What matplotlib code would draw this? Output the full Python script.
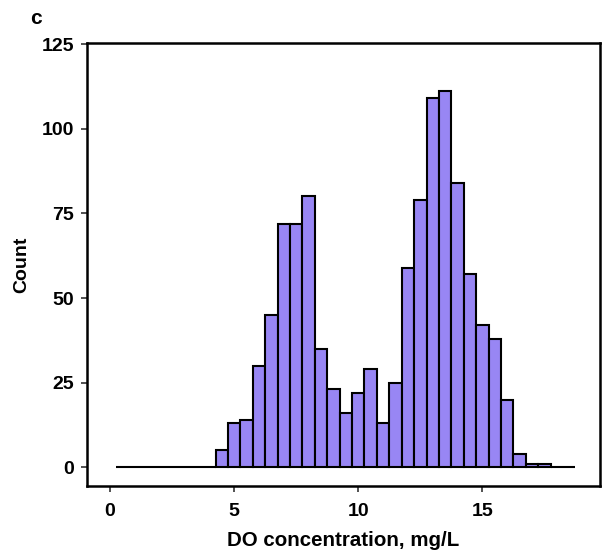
import numpy as np
import matplotlib
matplotlib.use("Agg")
import matplotlib.pyplot as plt

plt.rcParams['font.family'] = ['Liberation Sans', 'DejaVu Sans']

# Histogram of dissolved oxygen readings, binwidth 0.5 mg/L
bin_start = 0.25
bin_width = 0.5
counts = [0, 0, 0, 0, 0, 0, 0, 0,
          5, 13, 14, 30, 45, 72, 72, 80, 35, 23, 16, 22, 29, 13, 25,
          59, 79, 109, 111, 84, 57, 42, 38, 20, 4, 1, 1,
          0, 0]
x_ticks = [0, 5, 10, 15]
y_ticks = [0, 25, 50, 75, 100, 125]
x_label = "DO concentration, mg/L"
y_label = "Count"
panel_tag = "c"

edges = bin_start + bin_width * np.arange(len(counts) + 1)
lefts = edges[:-1]

fig = plt.figure(figsize=(6.05, 5.57), dpi=100)
ax = fig.add_axes([87 / 605, 1 - 486 / 557, (600 - 87) / 605, (486 - 43) / 557])

ax.bar(lefts, counts, width=bin_width, align='edge',
       color='#9886F4', edgecolor='black', linewidth=1.5, zorder=2)

ax.set_xlim(-0.93, 19.74)
ax.set_ylim(-5.5, 125.3)
ax.set_xticks(x_ticks)
ax.set_yticks(y_ticks)

for s in ax.spines.values():
    s.set_linewidth(1.8)
    s.set_color('black')

ax.tick_params(axis='both', direction='out', length=4.5, width=1.2,
               color='#333333', labelsize=14)
ax.tick_params(axis='x', pad=8)
ax.tick_params(axis='y', pad=5)
for lbl in ax.get_xticklabels() + ax.get_yticklabels():
    lbl.set_fontweight('bold')
    lbl.set_color('black')

ax.set_xlabel(x_label, fontsize=14.8, fontweight='bold', labelpad=8)
ax.set_ylabel(y_label, fontsize=14, fontweight='bold', labelpad=8)

fig.text(30 / 605, 1 - 18 / 557, panel_tag, fontsize=15, fontweight='bold',
         ha='left', va='center')

fig.savefig("out.png", dpi=100)
